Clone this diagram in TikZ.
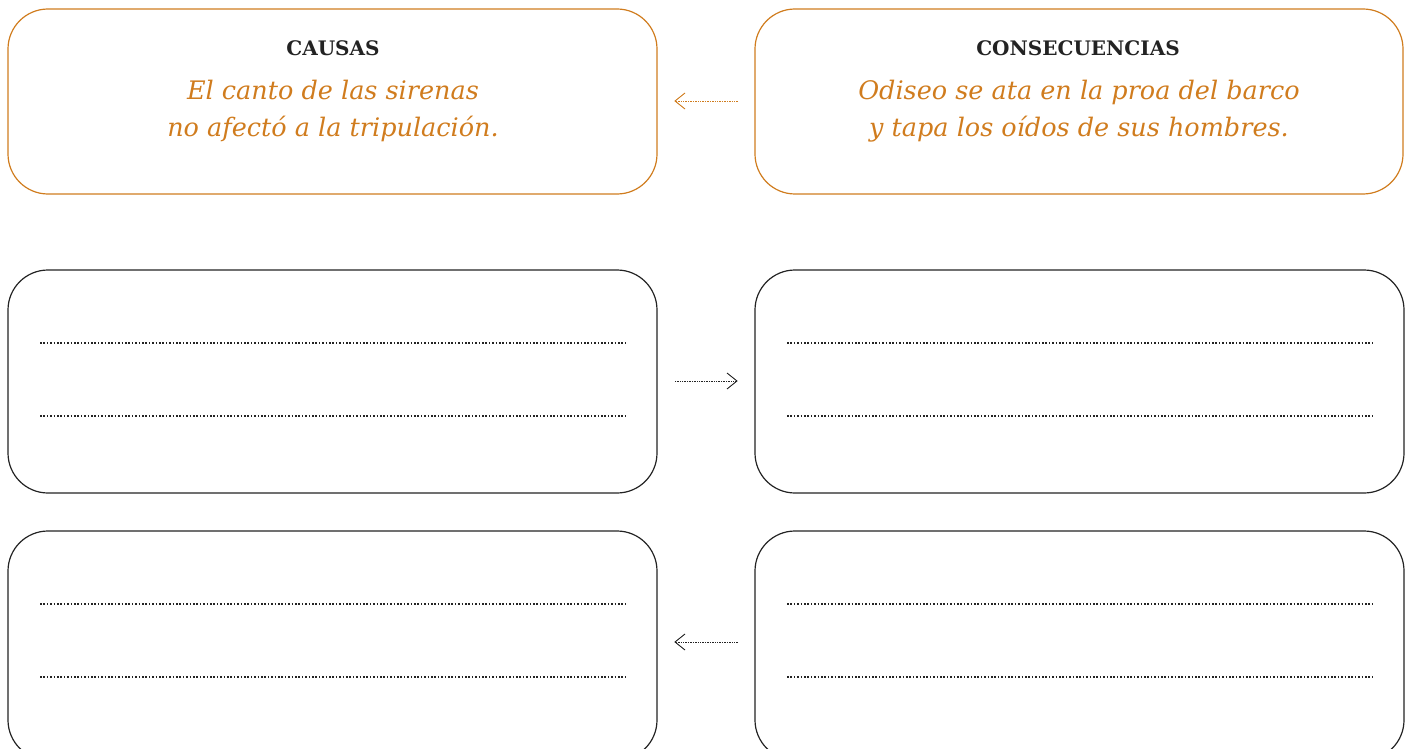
\documentclass[tikz,border=0pt]{standalone}
\usepackage{fontspec}
\usetikzlibrary{calc}
\setmainfont{DejaVu Serif}
\definecolor{orng}{RGB}{208,124,30}
\definecolor{ink}{RGB}{35,35,35}
\begin{document}
\begin{tikzpicture}[x=1pt,y=-1pt,
  box/.style={draw, rounded corners=40pt, line width=1.2pt},
  obox/.style={box, draw=orng},
  kbox/.style={box, draw=ink},
  wline/.style={draw=ink, line width=1.8pt, dash pattern=on 1.6pt off 1.8pt},
  conn/.style={line width=0.9pt, dash pattern=on 0.8pt off 0.9pt},
  tip/.style={line width=0.9pt},
  head/.style={font=\bfseries\fontsize{20}{24}\selectfont, text=ink},
  body/.style={font=\itshape\fontsize{25.5}{37}\selectfont, text=orng, align=center}]
\useasboundingbox (0,0) rectangle (1408,749);
\begin{scope}
\clip (0,0) rectangle (1408,749);
\draw[obox] (8,9) rectangle (657,194);
\draw[obox] (755,9) rectangle (1403,194);
\draw[kbox] (8,270) rectangle (657,493);
\draw[kbox] (755,270) rectangle (1404,493);
\draw[kbox] (8,531) rectangle (657,760);
\draw[kbox] (755,531) rectangle (1404,760);
\end{scope}
\node[head] (h1) at (333,48) {CAUSAS};
\node[head] (h2) at (1078,48) {CONSECUENCIAS};
\node[body] (t1) at (333,111) {El canto de las sirenas\\no afectó a la tripulación.};
\node[body] (t2) at (1079,111) {Odiseo se ata en la proa del barco\\y tapa los oídos de sus hombres.};
% writing lines
\foreach \yy in {343,416,604,677}{
  \draw[wline] (40,\yy) -- (627,\yy);
  \draw[wline] (787,\yy) -- (1373,\yy);
}
% connectors
\coordinate (a1s) at (738,101); \coordinate (a1e) at (675,101);
\draw[conn, draw=orng] (a1s) -- (a1e);
\draw[tip, draw=orng] ($(a1e)+(10,-8)$) -- (a1e) -- ($(a1e)+(10,8)$);
\coordinate (a2s) at (675,381); \coordinate (a2e) at (737,381);
\draw[conn, draw=ink] (a2s) -- (a2e);
\draw[tip, draw=ink] ($(a2e)+(-10,-8)$) -- (a2e) -- ($(a2e)+(-10,8)$);
\coordinate (a3s) at (738,642); \coordinate (a3e) at (675,642);
\draw[conn, draw=ink] (a3s) -- (a3e);
\draw[tip, draw=ink] ($(a3e)+(10,-8)$) -- (a3e) -- ($(a3e)+(10,8)$);
\end{tikzpicture}
\end{document}
